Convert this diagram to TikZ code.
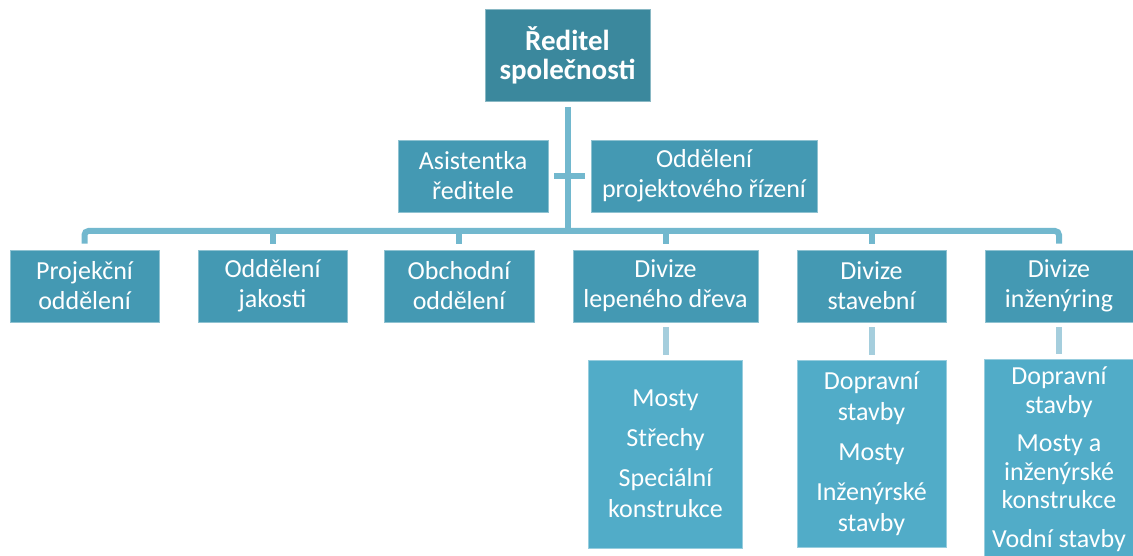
\documentclass[tikz,border=0pt]{standalone}
\usepackage{fontspec}
\setmainfont{Carlito}
\usetikzlibrary{calc}
\definecolor{ceoblue}{HTML}{3B889D}
\definecolor{unitblue}{HTML}{4499B3}
\definecolor{subblue}{HTML}{51ACC8}
\definecolor{linkblue}{HTML}{72B8CE}
\definecolor{sublink}{HTML}{A5CEDD}
\begin{document}
\begin{tikzpicture}[x=1pt,y=-1pt,
  box/.style={rectangle, inner sep=0pt, text=white, align=center, line width=0.8pt},
  ceobox/.style={box, fill=ceoblue, draw=ceoblue!60!white,
    font=\fontsize{29}{29}\selectfont\bfseries},
  unitbox/.style={box, fill=unitblue, draw=unitblue!60!white,
    minimum height=72pt, font=\fontsize{26}{30}\selectfont},
  subbox/.style={box, fill=subblue, draw=subblue!60!white,
    font=\fontsize{26}{31}\selectfont},
  link/.style={draw=linkblue, line width=6pt},
  sublinkline/.style={draw=sublink, line width=6pt}]

\useasboundingbox (0,0) rectangle (1133,556);
\clip (0,0) rectangle (1133,556);

% top of the hierarchy
\node[ceobox, minimum width=165pt, minimum height=92pt] (ceo) at (567.5,55)
  {Ředitel\\společnosti};

% staff units beside the trunk
\node[unitbox, minimum width=150pt] (asist) at (473,176) {Asistentka\\ředitele};
\node[unitbox, minimum width=226pt] (projr) at (704,176) {Oddělení\\projektového řízení};

% departments and divisions
\node[unitbox, minimum width=149pt] (proj)    at (84.5,286)  {Projekční\\oddělení};
\node[unitbox, minimum width=149pt] (jak)     at (272.5,286) {Oddělení\\jakosti};
\node[unitbox, minimum width=150pt] (obch)    at (459,286)   {Obchodní\\oddělení};
\node[unitbox, minimum width=185pt] (divlep)  at (665.5,286) {Divize\\lepeného dřeva};
\node[unitbox, minimum width=149pt] (divstav) at (871.5,286) {Divize\\stavební};
\node[unitbox, minimum width=148pt] (divinz)  at (1059,286)  {Divize\\inženýring};

% activity lists under the divisions
\node[subbox, minimum width=154pt, minimum height=188pt] (sub1) at (665.5,454)
  {Mosty\\[9pt]Střechy\\[9pt]Speciální\\konstrukce};
\node[subbox, minimum width=149pt, minimum height=187pt] (sub2) at (871.5,453.5)
  {Dopravní\\stavby\\[9pt]Mosty\\[9pt]Inženýrské\\stavby};
\node[subbox, minimum width=150pt, minimum height=200pt,
      font=\fontsize{26}{28.5}\selectfont] (sub3) at (1059,459)
  {Dopravní\\stavby\\[10pt]Mosty a\\inženýrské\\konstrukce\\[10pt]Vodní stavby};

% connectors
\coordinate (bar) at (567.5,231);
\draw[link] ($(ceo.south)+(0,6)$) -- (bar);
\draw[link] ($(asist.east)+(6,0)$) -- ($(projr.west)+(-6,0)$);
\draw[link, rounded corners=4pt] ($(proj.north)+(0,-6)$) |- (bar)
  -| ($(divinz.north)+(0,-6)$);
\draw[link] (jak.north |- bar) -- ($(jak.north)+(0,-6)$);
\draw[link] (obch.north |- bar) -- ($(obch.north)+(0,-6)$);
\draw[link] (divlep.north |- bar) -- ($(divlep.north)+(0,-6)$);
\draw[link] (divstav.north |- bar) -- ($(divstav.north)+(0,-6)$);

\draw[sublinkline] ($(divlep.south)+(0,5)$) -- ($(sub1.north)+(0,-5)$);
\draw[sublinkline] ($(divstav.south)+(0,5)$) -- ($(sub2.north)+(0,-5)$);
\draw[sublinkline] ($(divinz.south)+(0,5)$) -- ($(sub3.north)+(0,-5)$);
\end{tikzpicture}
\end{document}
